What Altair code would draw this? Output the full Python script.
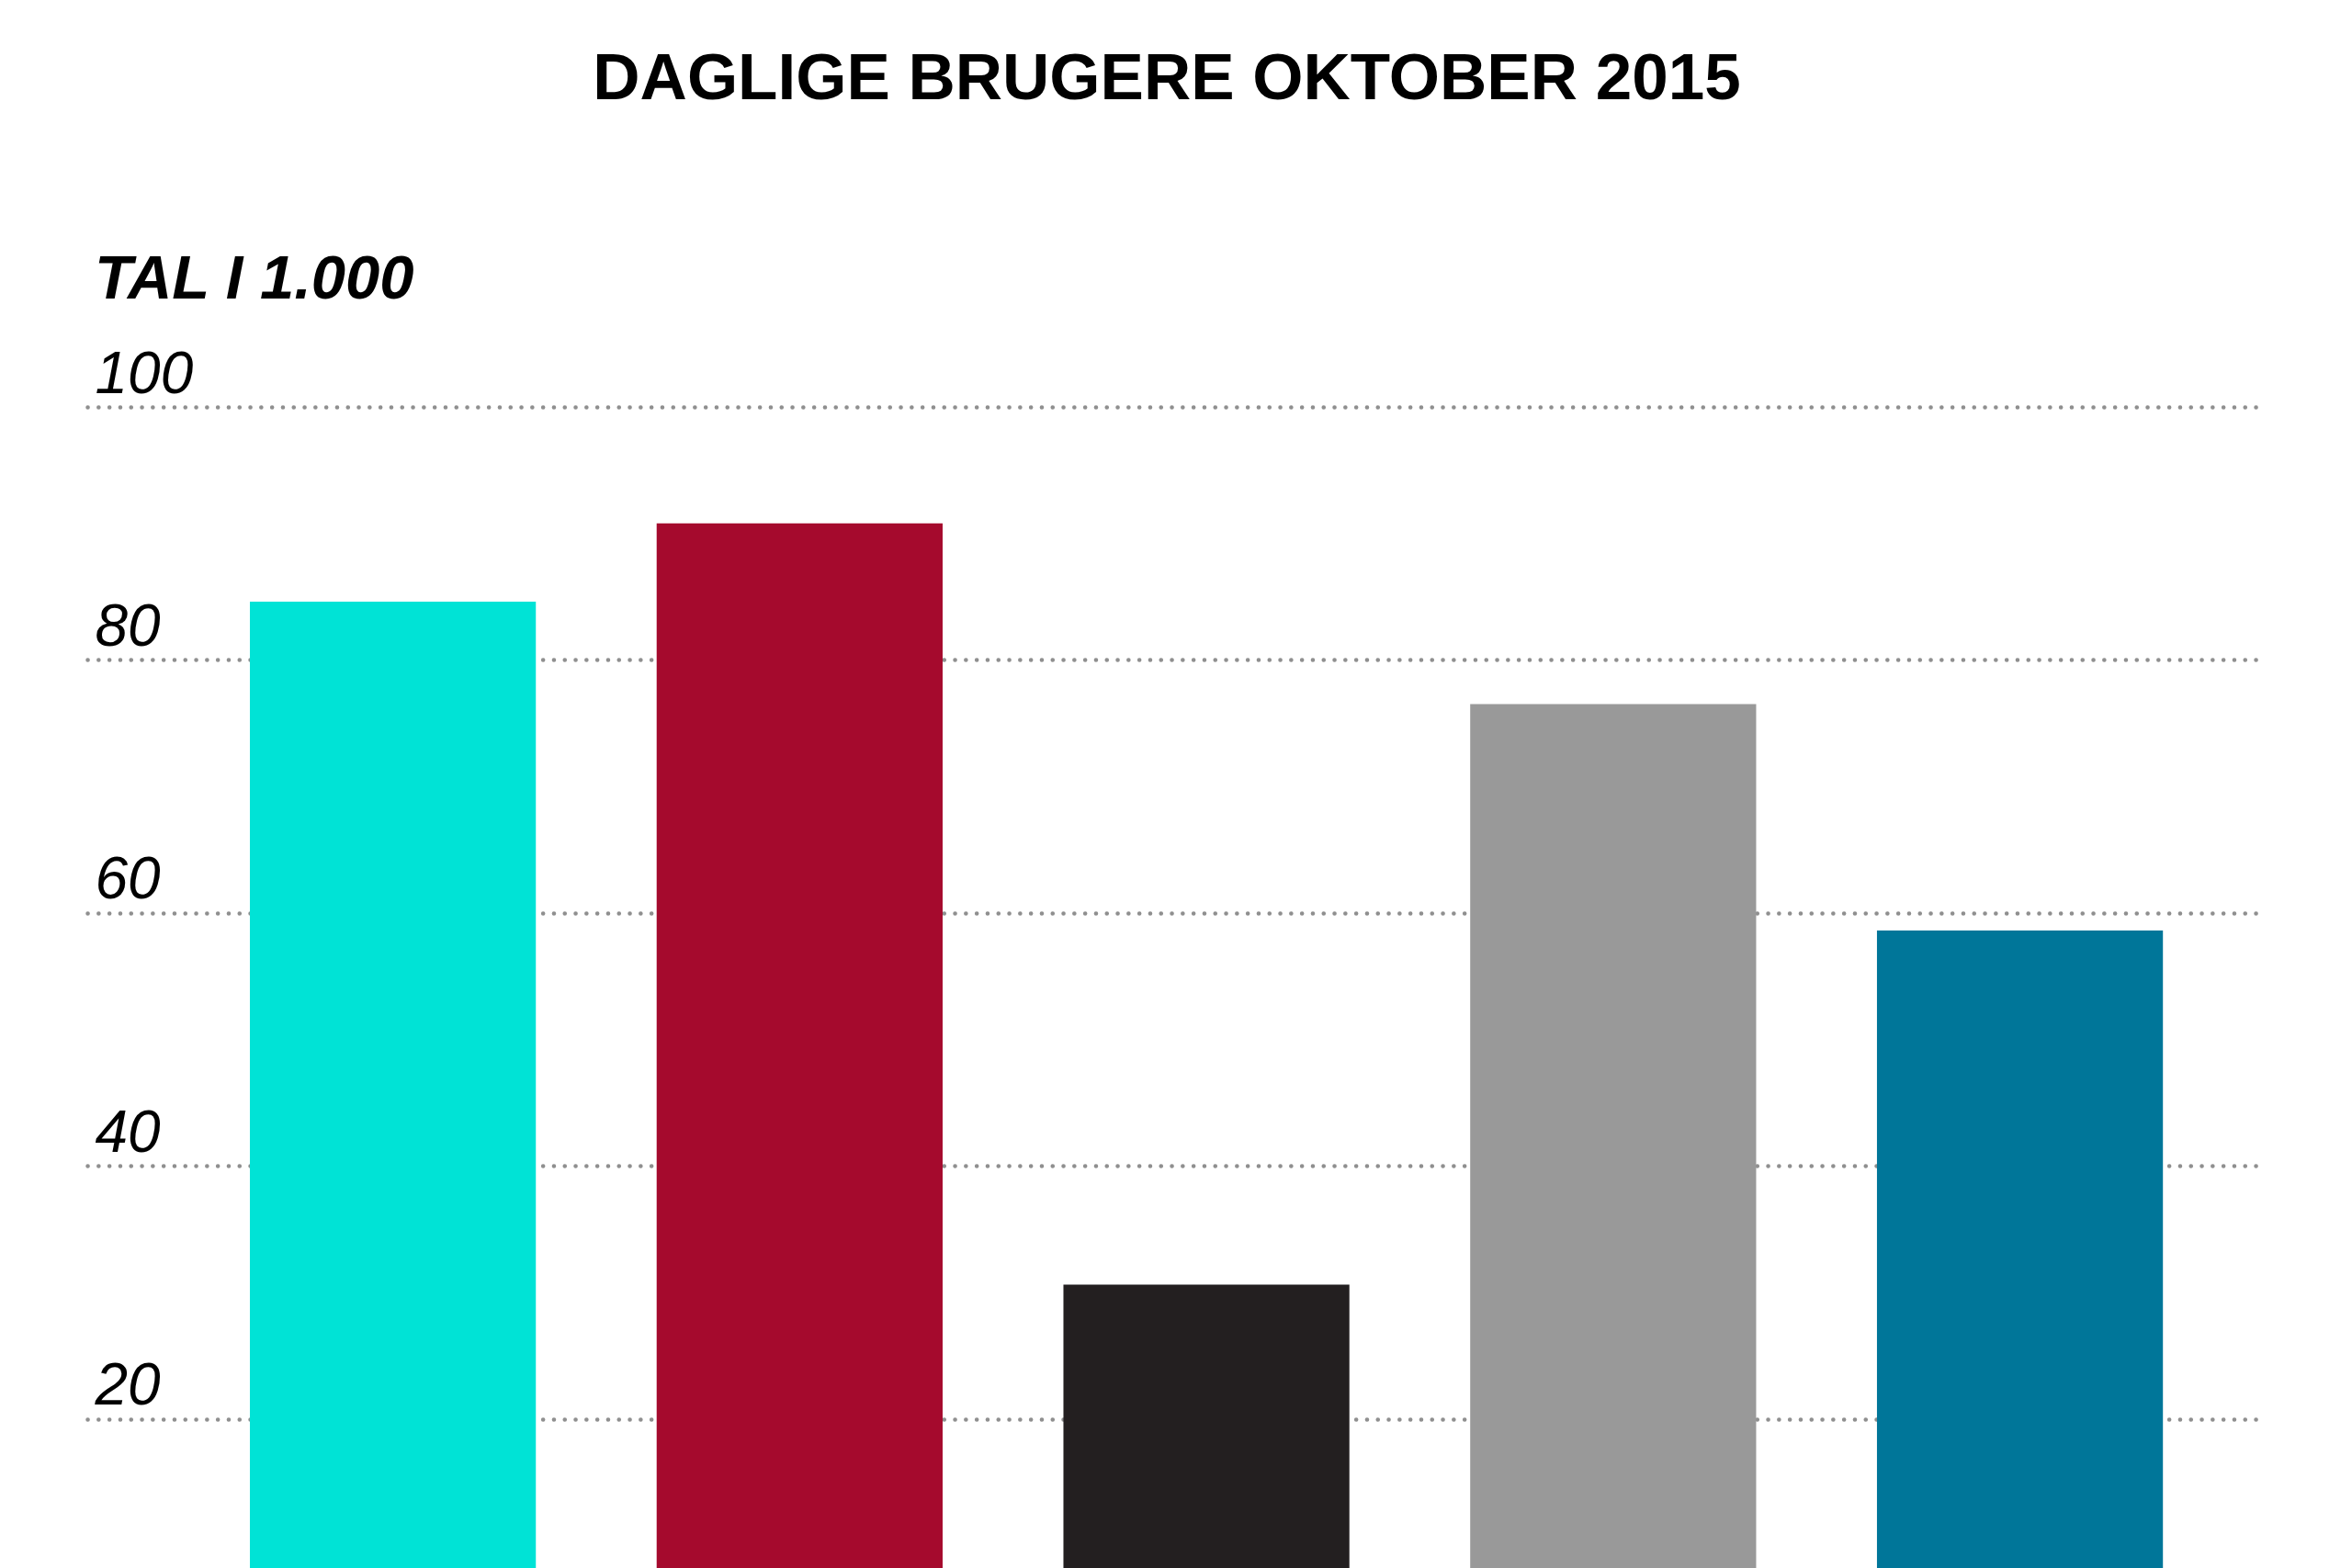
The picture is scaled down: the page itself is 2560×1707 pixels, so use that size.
import altair as alt
import pandas as pd

# Data
categories = ["Kanal 1", "Kanal 2", "Kanal 3", "Kanal 4", "Kanal 5"]
values = [84.6, 90.8, 30.6, 76.5, 58.6]
colors = ["#00E3D6", "#A50A2D", "#231F20", "#999999", "#007699"]
tick_values = [20, 40, 60, 80, 100]
title_text = ["DAGLIGE BRUGERE OKTOBER 2015"]
unit_text = ["TAL I 1.000"]

df = pd.DataFrame({"kategori": categories, "vaerdi": values, "farve": colors})

W, H = 2370, 1264

bars = alt.Chart(df).mark_bar().encode(
    x=alt.X("kategori:N", sort=categories, axis=None,
            scale=alt.Scale(paddingInner=0.297, paddingOuter=0.325, align=0.615)),
    y=alt.Y("vaerdi:Q",
            scale=alt.Scale(domain=[8.2, 100], clamp=True, nice=False, zero=False),
            axis=alt.Axis(values=tick_values, title=None, domain=False, ticks=False,
                          grid=True, gridColor="#8f8f8f", gridWidth=4.5, gridCap="round",
                          gridDash=[0.1, 11.7],
                          labelFont="Liberation Sans", labelFontStyle="italic",
                          labelFontSize=64, labelColor="#000000", labelAlign="left",
                          labelBaseline="alphabetic", labelPadding=-8, labelOffset=-16,
                          labelFlush=False, labelOverlap=False, labelBound=False)),
    color=alt.Color("farve:N", scale=None),
)

title = alt.Chart(pd.DataFrame({"t": title_text})).mark_text(
    font="Liberation Sans", fontWeight="bold", fontSize=71, align="center",
    baseline="alphabetic", color="#000000"
).encode(text="t:N", x=alt.value(1175), y=alt.value(-335))

unit = alt.Chart(pd.DataFrame({"t": unit_text})).mark_text(
    font="Liberation Sans", fontWeight="bold", fontStyle="italic", fontSize=67,
    align="left", baseline="alphabetic", color="#000000"
).encode(text="t:N", x=alt.value(8), y=alt.value(-118))

chart = alt.layer(bars, title, unit).properties(
    width=W, height=H,
    autosize=alt.AutoSizeParams(type="none"),
    padding={"left": 87, "top": 435, "right": 87, "bottom": 0},
    background="#ffffff",
).configure_view(stroke=None)

chart.save("out.html", embed_options={"renderer": "svg", "actions": False})
